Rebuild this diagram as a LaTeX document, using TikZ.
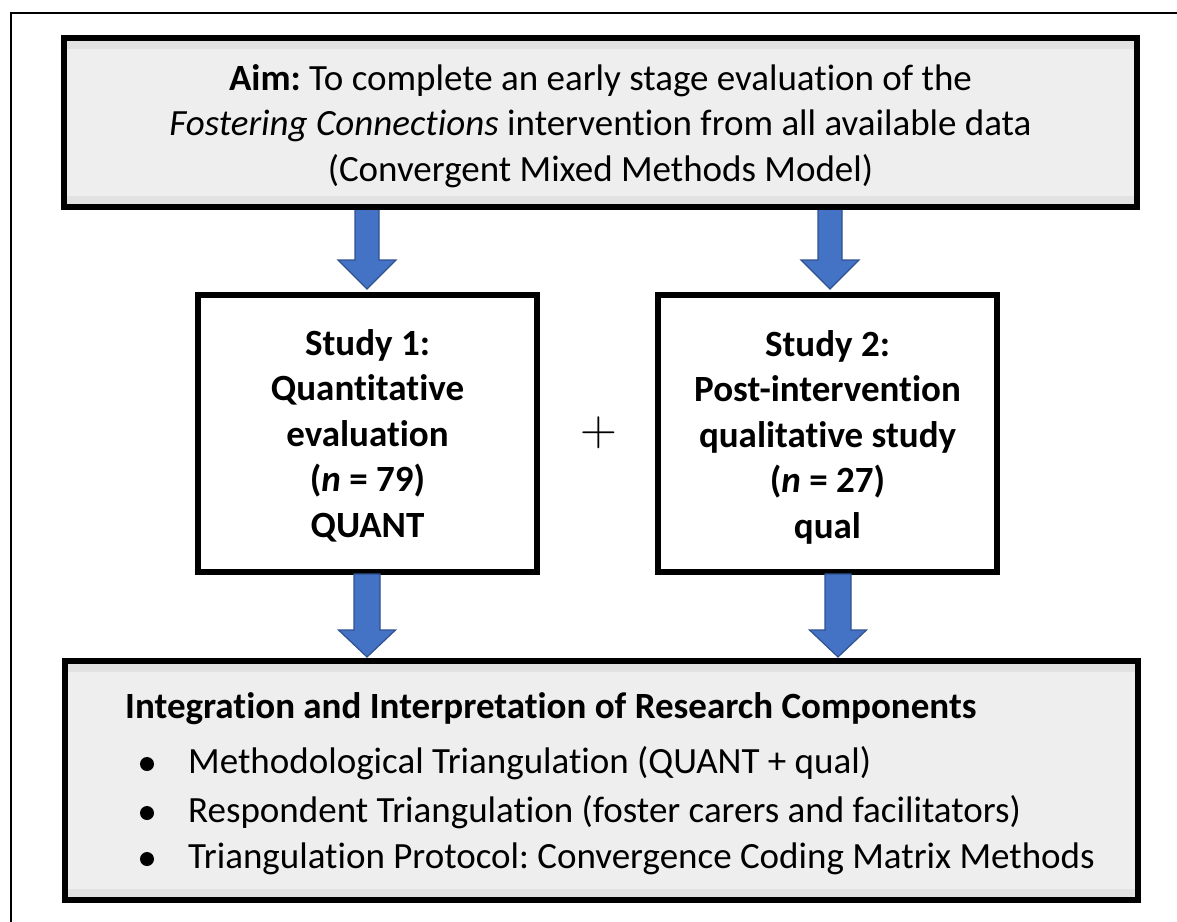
\documentclass[tikz,border=0pt]{standalone}
\usepackage{fontspec}
\newfontfamily\carlito{Carlito}[Ligatures=NoCommon]
\usetikzlibrary{calc}
\frenchspacing
\definecolor{arrowblue}{HTML}{4472C4}
\definecolor{arrowedge}{HTML}{2F528F}
\definecolor{boxgrey}{HTML}{EEEEEE}
\definecolor{bandgrey}{HTML}{E2E2E2}
\newcommand{\blockarr}[6]{% start, tip, halfshaft, halfhead, headlength, options
  \draw[blockarrow,#6] let \p1=#1, \p2=#2 in
    (\x2-#3,\y1) -- (\x2-#3,\y2+#5) -- (\x2-#4,\y2+#5) -- (\x2,\y2)
    -- (\x2+#4,\y2+#5) -- (\x2+#3,\y2+#5) -- (\x2+#3,\y1) -- cycle;}
\begin{document}
\begin{tikzpicture}[x=1pt,y=-1pt,
  greybox/.style={draw=black, line width=6pt, fill=boxgrey, outer sep=0pt, inner sep=0pt},
  whitebox/.style={draw=black, line width=6pt, fill=white, outer sep=0pt, inner sep=0pt},
  txt/.style={font=\carlito\fontsize{37}{45.5}\selectfont, align=center, inner sep=0pt},
  itemtxt/.style={font=\carlito\fontsize{37}{45}\selectfont, inner sep=0pt, anchor=base west},
  blockarrow/.style={fill=arrowblue, draw=arrowedge, line width=1.2pt, line join=miter}]
\useasboundingbox (0,0) rectangle (1177,921);
\draw[line width=2pt] (11,925) -- (11,13) -- (1182,13);

% boxes (empty shapes)
\node[greybox, minimum width=1073pt, minimum height=169pt] (aim) at (600.5,122.5) {};
\node[whitebox, minimum width=339pt, minimum height=277pt] (s1) at (367.5,433.5) {};
\node[whitebox, minimum width=339pt, minimum height=277pt] (s2) at (827.5,433.5) {};
\node[greybox, minimum width=1073pt, minimum height=239pt] (integ) at (601.5,780.5) {};

% inner bands
\fill[bandgrey] ([shift={(3pt,-3pt)}]aim.north west) rectangle ([shift={(-3pt,-11pt)}]aim.north east);
\fill[bandgrey] ([shift={(3pt,3pt)}]aim.south west) rectangle ([shift={(-3pt,11pt)}]aim.south east);
\fill[bandgrey] ([shift={(3pt,-3pt)}]integ.north west) rectangle ([shift={(-3pt,-11pt)}]integ.north east);
\fill[bandgrey] ([shift={(3pt,3pt)}]integ.south west) rectangle ([shift={(-3pt,11pt)}]integ.south east);

% connector coordinates
\coordinate (a1s) at ([xshift=-0.5pt]s1.north |- aim.south);
\coordinate (a1e) at ([shift={(-0.5pt,6pt)}]s1.north);
\coordinate (a2s) at ([xshift=2.5pt]s2.north |- aim.south);
\coordinate (a2e) at ([shift={(2.5pt,6pt)}]s2.north);
\coordinate (b1s) at ([shift={(-0.5pt,-2pt)}]s1.south);
\coordinate (b1e) at ([xshift=-0.5pt,yshift=4pt]s1.south |- integ.north);
\coordinate (b2s) at ([shift={(10.5pt,-2pt)}]s2.south);
\coordinate (b2e) at ([xshift=10.5pt,yshift=4pt]s2.south |- integ.north);

\blockarr{(a1s)}{(a1e)}{12pt}{29pt}{29pt}{}
\blockarr{(a2s)}{(a2e)}{12pt}{29pt}{29pt}{}
\blockarr{(b1s)}{(b1e)}{13pt}{28.5pt}{27pt}{}
\blockarr{(b2s)}{(b2e)}{13pt}{28.5pt}{27pt}{}

% redraw box border over arrow ends
\draw[line width=6pt] (aim.south west) -- (aim.south east);

% texts
\node[txt] (aimtxt) at (600.5,126) {\textbf{Aim:} To complete an early stage evaluation of the\\
  \textit{Fostering Connections} intervention from all available data\\
  (Convergent Mixed Methods Model)};
\node[txt, font=\carlito\bfseries\fontsize{37}{45.5}\selectfont] (s1txt) at (367.5,435.5)
  {Study 1:\\ Quantitative\\ evaluation\\ (\textit{n} = 79)\\ QUANT};
\node[txt, font=\carlito\bfseries\fontsize{37}{45.5}\selectfont] (s2txt) at (827.5,437)
  {Study 2:\\ Post-intervention\\ qualitative study\\ (\textit{n} = 27)\\ qual};
\node[inner sep=0pt, font=\rmfamily\fontsize{51}{51}\selectfont] (plus) at (599,433) {+};

\node[itemtxt, font=\carlito\bfseries\fontsize{37}{45}\selectfont] (head) at (125,718)
  {Integration and Interpretation of Research Components};
\node[itemtxt] (it1) at (188,773) {Methodological Triangulation (QUANT + qual)};
\node[itemtxt] (it2) at (188,822) {Respondent Triangulation (foster carers and facilitators)};
\node[itemtxt] (it3) at (188,868) {Triangulation Protocol: Convergence Coding Matrix Methods};
\fill ([xshift=-41pt,yshift=9pt]it1.base west) circle (7pt);
\fill ([xshift=-41pt,yshift=9pt]it2.base west) circle (7pt);
\fill ([xshift=-41pt,yshift=9pt]it3.base west) circle (7pt);
\end{tikzpicture}
\end{document}
